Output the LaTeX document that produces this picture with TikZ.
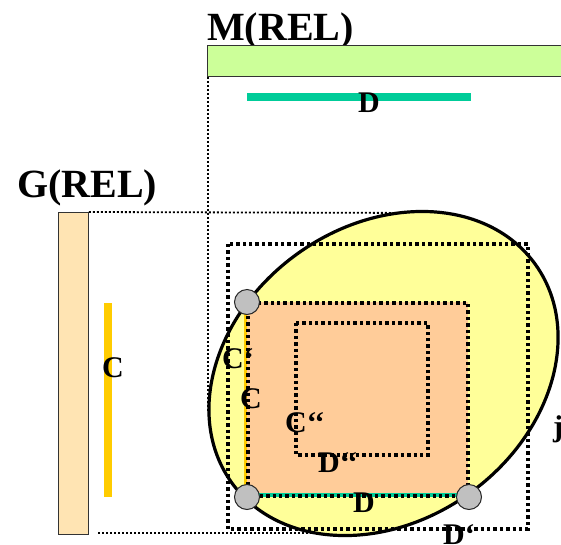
\documentclass[tikz,border=0pt]{standalone}
\usepackage{fontspec}
\setmainfont{Liberation Serif}
\usetikzlibrary{shapes.geometric}
\definecolor{mbarfill}{HTML}{CCFF99}
\definecolor{gbarfill}{HTML}{FFE4B3}
\definecolor{dlinecol}{HTML}{00CC99}
\definecolor{clinecol}{HTML}{FFCC00}
\definecolor{ellfill}{HTML}{FFFF99}
\definecolor{sqfill}{HTML}{FFCC99}
\definecolor{knotfill}{HTML}{C0C0C0}
\begin{document}
\begin{tikzpicture}[x=1pt,y=-1pt,
  guide/.style={line width=1.8pt, dash pattern=on 2pt off 2pt},
  boxdots/.style={line width=3.4pt, dash pattern=on 3.4pt off 3pt},
  bar/.style={draw=black!80, line width=0.9pt, inner sep=0pt, anchor=north west},
  lbl/.style={font=\fontsize{30}{34}\selectfont\bfseries, inner sep=0pt, anchor=base west},
  ttl/.style={font=\fontsize{40}{44}\selectfont\bfseries, inner sep=0pt, anchor=base west},
  knot/.style={circle, draw=black!85, line width=1pt, fill=knotfill, minimum size=25pt, inner sep=0pt},
]
\useasboundingbox (0,0) rectangle (561,544);
\clip (0,0) rectangle (561,544);

% titles and relation bars
\node[ttl] (mtitle) at (207,40) {M(REL)};
\node[ttl] (gtitle) at (17,197) {G(REL)};
\node[bar, fill=mbarfill, minimum width=370pt, minimum height=31pt] (mbar) at (207,45) {};
\node[bar, fill=gbarfill, minimum width=30pt, minimum height=322pt] (gbar) at (58,212) {};

% guide lines from the bars
\coordinate (mguide) at (208,412);
\coordinate (gtop) at (425,213);
\coordinate (gbotstart) at (98,533);
\coordinate (gbotend) at (330,533);
\draw[guide] ([xshift=1pt]mbar.south west) -- (mguide);
\draw[guide] (gbar.north east) -- (gtop);
\draw[guide] (gbotstart) -- (gbotend);

% projections on the bars
\coordinate (dtop1) at (247,97);
\coordinate (dtop2) at (471,97);
\draw[dlinecol, line width=8pt] (dtop1) -- (dtop2);
\node[lbl] (dtoplbl) at (358,112) {D};
\coordinate (cleft1) at (108,303);
\coordinate (cleft2) at (108,497);
\draw[clinecol, line width=8pt] (cleft1) -- (cleft2);
\node[lbl] (cleftlbl) at (102,377) {C};

% elliptic region
\node[ellipse, draw, line width=3.2pt, fill=ellfill, minimum width=374pt,
      minimum height=295pt, inner sep=0pt, rotate=35.7] (ell) at (383.5,373.5) {};

% outer dotted box
\draw[boxdots] (228,244) rectangle (528,529);

% orange square with corners
\coordinate (k1c) at (247,302);
\coordinate (k2c) at (247,497);
\coordinate (k3c) at (469,497);
\fill[sqfill] (k1c) rectangle (468,497);
\draw[clinecol, line width=3pt] ([xshift=-2pt]k1c) -- ([xshift=-2pt]k2c);
\draw[dlinecol, line width=4pt] ([yshift=2pt]k2c) -- ([yshift=2pt]k3c);
\draw[boxdots] (248,303) rectangle (468,496);

% inner dotted square
\draw[boxdots] (296,323) rectangle (428,455);

% corner points
\node[knot] (k1) at (k1c) {};
\node[knot] (k2) at (k2c) {};
\node[knot] (k3) at (k3c) {};

% labels
\node[lbl] (c1lbl) at (222,368) {C‘};
\node[lbl] (c0lbl) at (240,408) {C};
\node[lbl] (c2lbl) at (285,432) {C‘‘};
\node[lbl] (d2lbl) at (318,472) {D‘‘};
\node[lbl] (dlbl) at (353,512) {D};
\node[lbl] (d1lbl) at (443,544) {D‘};
\node[lbl] (jlbl) at (553,436) {j};
\end{tikzpicture}
\end{document}
